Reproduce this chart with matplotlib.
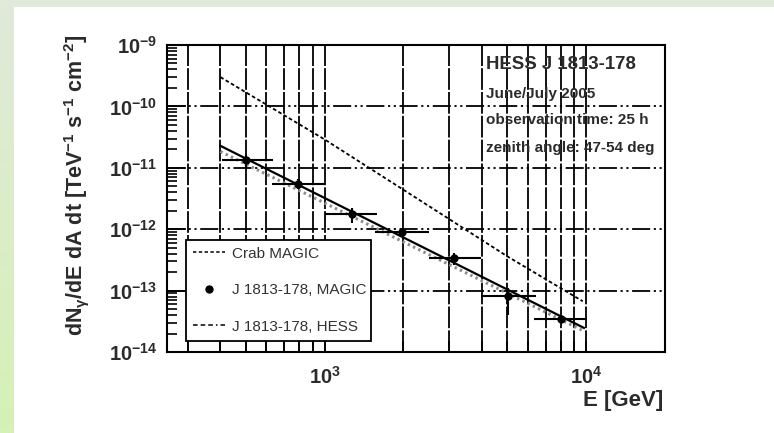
import numpy as np
import matplotlib
matplotlib.use('Agg')
import matplotlib.pyplot as plt
from matplotlib.lines import Line2D
from matplotlib.patches import Rectangle
from matplotlib.colors import LinearSegmentedColormap
from matplotlib.ticker import LogLocator, NullFormatter

plt.rcParams['font.family'] = ['Liberation Sans', 'DejaVu Sans']
plt.rcParams['mathtext.default'] = 'regular'

# Crab MAGIC reference spectrum
crab_E = [400, 1000, 2000, 5000, 9700]
crab_F = [3.0e-10, 2.9e-11, 4.4e-12, 3.6e-13, 6.7e-14]

# power-law fits
magic_fit_E = [400, 9800]
magic_fit_F = [2.28e-11, 2.47e-14]
hess_fit_E = [400, 9800]
hess_fit_F = [1.84e-11, 2.19e-14]

# MAGIC spectral points, J 1813-178
pt_E = [502, 795, 1274, 1977, 3133, 5012, 7975]
pt_E_lo = [405, 630, 1006, 1563, 2500, 3950, 6310]
pt_E_hi = [638, 1006, 1585, 2512, 3950, 6400, 10090]
pt_F = [1.32e-11, 5.43e-12, 1.77e-12, 8.87e-13, 3.4e-13, 8.07e-14, 3.47e-14]
pt_F_lo = [9.9e-12, 4.5e-12, 1.26e-12, 7.9e-13, 2.65e-13, 4.07e-14, 3.1e-14]
pt_F_hi = [1.63e-11, 6.5e-12, 2.21e-12, 9.9e-13, 4.1e-13, 1.107e-13, 3.9e-14]

info_lines = ['HESS J 1813-178', 'June/July 2005',
              'observation time: 25 h', 'zenith angle: 47-54 deg']
legend_labels = ['Crab MAGIC', 'J 1813-178, MAGIC', 'J 1813-178, HESS']

txt = '#2b2b2b'

fig = plt.figure(figsize=(7.74, 4.33), dpi=100)

# green page border (left and top)
bg = fig.add_axes([0, 0, 1, 1], zorder=-10)
cmap = LinearSegmentedColormap.from_list('g', ['#e1e9da', '#d5f1b6'])
bg.imshow(np.linspace(0, 1, 100).reshape(-1, 1), cmap=cmap,
          extent=(0, 14, 433, 0), aspect='auto')
bg.add_patch(Rectangle((0, 0), 774, 6.5, color='#e1e9da', lw=0))
bg.set_xlim(0, 774)
bg.set_ylim(433, 0)
bg.axis('off')

ax = fig.add_axes([167 / 774, 81 / 433, 498 / 774, 307 / 433])
ax.set_xscale('log')
ax.set_yscale('log')

ax.plot(crab_E, crab_F, color='k', lw=1.3, ls=(0, (2.0, 1.4)))
ax.plot(hess_fit_E, hess_fit_F, color='#8c8c8c', lw=2.2, ls=(0, (0.8, 1.1)))
ax.plot(magic_fit_E, magic_fit_F, color='k', lw=1.6)

E = np.array(pt_E)
F = np.array(pt_F)
ax.errorbar(E, F,
            xerr=[E - np.array(pt_E_lo), np.array(pt_E_hi) - E],
            yerr=[F - np.array(pt_F_lo), np.array(pt_F_hi) - F],
            fmt='o', color='k', ms=5, elinewidth=1.5, capsize=0)

ax.set_xlim(250, 20000)
ax.set_ylim(1e-14, 1e-9)

ax.set_axisbelow(True)
ax.grid(True, which='both', axis='x', color='k', lw=1.3, ls=(0, (12, 1.2)))
ax.grid(True, which='major', axis='y', color='k', lw=1.3,
        ls=(0, (10, 2, 1.2, 2, 1.2, 2)))

ax.yaxis.set_minor_locator(LogLocator(base=10, subs=range(2, 10), numticks=20))
ax.xaxis.set_minor_formatter(NullFormatter())
ax.tick_params(axis='y', which='both', direction='in', left=True, right=False)
ax.tick_params(axis='y', which='major', length=14, width=1.2, labelsize=14.5,
               pad=7, labelcolor=txt)
ax.tick_params(axis='y', which='minor', length=7, width=1.2)
ax.tick_params(axis='x', which='both', direction='in', bottom=True, top=False,
               length=8, width=1.2, labelsize=14.5, pad=10, labelcolor=txt)
for lab in ax.get_xticklabels() + ax.get_yticklabels():
    lab.set_fontweight('bold')
for s in ax.spines.values():
    s.set_linewidth(1.5)

for line, y, size in zip(info_lines, [0.935, 0.842, 0.756, 0.663],
                         [13.4, 11, 11, 11]):
    ax.text(0.6406, y, line, transform=ax.transAxes, fontsize=size,
            fontweight='bold', color=txt, va='center', ha='left')

handles = [Line2D([], [], color='k', lw=1.1, ls=(0, (2.2, 1.6))),
           Line2D([], [], color='k', marker='o', ms=5, ls='none'),
           Line2D([], [], color='k', lw=1.1, ls=(0, (3, 2, 3, 2, 3, 2, 1, 2)))]
leg = ax.legend(handles, legend_labels, loc='upper left',
                bbox_to_anchor=(0.0375, 0.365, 0.3715, 0), mode='expand',
                fontsize=11, fancybox=False, edgecolor='k', framealpha=1,
                borderpad=0.45, labelspacing=1.47, handlelength=2.15,
                handletextpad=0.45, borderaxespad=0)
leg.get_frame().set_linewidth(1.3)
for t in leg.get_texts():
    t.set_color('#333333')

ax.set_ylabel('dN$_{γ}$/dE dA dt [TeV$^{-1}$ s$^{-1}$ cm$^{-2}$]',
              fontsize=15.5, fontweight='bold', color=txt)
ax.yaxis.set_label_coords(-0.1526, 0.544)
ax.set_xlabel('E [GeV]', fontsize=16, fontweight='bold', color=txt, loc='right')
ax.xaxis.set_label_coords(0.996, -0.124)

fig.savefig('out.png', dpi=100)
